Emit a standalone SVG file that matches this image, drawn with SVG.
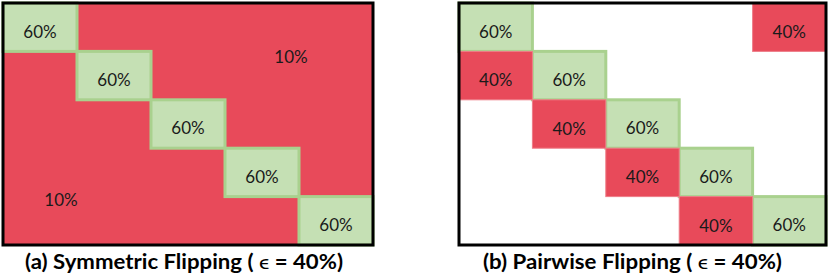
<svg xmlns="http://www.w3.org/2000/svg" width="830" height="276" viewBox="0 0 830 276">
<style>
.bg{fill:#ffffff}
.red{fill:#E84A5A}
.redc{fill:#E84A5A;stroke:#EE7D88;stroke-width:1}
.green{fill:#C5E0B4;stroke:#A9D18E;stroke-width:3}
.frame{fill:none;stroke:#000000;stroke-width:3}
.lbl{font-family:Lato,"Liberation Sans",Arial,sans-serif;font-size:17px;fill:#1a1a1a;text-anchor:middle}
.cap{font-family:Lato,"Liberation Sans",Arial,sans-serif;font-size:20px;font-weight:bold;fill:#000000}
</style>
<rect x="0" y="0" width="830" height="276" class="bg"/>
<g id="panel-a">
  <rect id="a-bg" x="3" y="3" width="370" height="242" class="red"/>
  <g id="a-off-upper"><text x="291" y="63" class="lbl">10%</text></g>
  <g id="a-off-lower"><text x="61" y="206" class="lbl">10%</text></g>
  <g id="a-d0"><rect x="3" y="3" width="74" height="48.4" class="green"/><text x="40" y="37.5" class="lbl">60%</text></g>
  <g id="a-d1"><rect x="77" y="51.4" width="74" height="48.4" class="green"/><text x="114" y="85.5" class="lbl">60%</text></g>
  <g id="a-d2"><rect x="151" y="99.8" width="74" height="48.4" class="green"/><text x="188" y="134" class="lbl">60%</text></g>
  <g id="a-d3"><rect x="225" y="148.2" width="74" height="48.4" class="green"/><text x="262" y="182.5" class="lbl">60%</text></g>
  <g id="a-d4"><rect x="299" y="196.6" width="74" height="48.4" class="green"/><text x="336" y="231" class="lbl">60%</text></g>
  <rect x="3" y="3" width="370" height="242" class="frame"/>
  <text x="25" y="269" class="cap" textLength="318" lengthAdjust="spacingAndGlyphs">(a) Symmetric Flipping ( <tspan font-weight="normal">ϵ</tspan> = 40%)</text>
</g>
<g id="panel-b">
  <g id="b-d0"><rect x="459" y="3" width="73.4" height="48.4" class="green"/><text x="495.7" y="37.5" class="lbl">60%</text></g>
  <g id="b-d1"><rect x="532.4" y="51.4" width="73.4" height="48.4" class="green"/><text x="569.1" y="85.5" class="lbl">60%</text></g>
  <g id="b-d2"><rect x="605.8" y="99.8" width="73.4" height="48.4" class="green"/><text x="642.5" y="134" class="lbl">60%</text></g>
  <g id="b-d3"><rect x="679.2" y="148.2" width="73.4" height="48.4" class="green"/><text x="715.9" y="182.5" class="lbl">60%</text></g>
  <g id="b-d4"><rect x="752.6" y="196.6" width="73.4" height="48.4" class="green"/><text x="789.3" y="231" class="lbl">60%</text></g>
  <g id="b-r0"><rect x="752.6" y="3" width="73.4" height="48.4" class="redc"/><text x="789.3" y="38" class="lbl">40%</text></g>
  <g id="b-r1"><rect x="459" y="51.4" width="73.4" height="48.4" class="redc"/><text x="495.7" y="86" class="lbl">40%</text></g>
  <g id="b-r2"><rect x="532.4" y="99.8" width="73.4" height="48.4" class="redc"/><text x="569.1" y="134.5" class="lbl">40%</text></g>
  <g id="b-r3"><rect x="605.8" y="148.2" width="73.4" height="48.4" class="redc"/><text x="642.5" y="183" class="lbl">40%</text></g>
  <g id="b-r4"><rect x="679.2" y="196.6" width="73.4" height="48.4" class="redc"/><text x="715.9" y="231.5" class="lbl">40%</text></g>
  <rect x="459" y="3" width="367" height="242" class="frame"/>
  <text x="483" y="269" class="cap" textLength="299" lengthAdjust="spacingAndGlyphs">(b) Pairwise Flipping ( <tspan font-weight="normal">ϵ</tspan> = 40%)</text>
</g>
</svg>
